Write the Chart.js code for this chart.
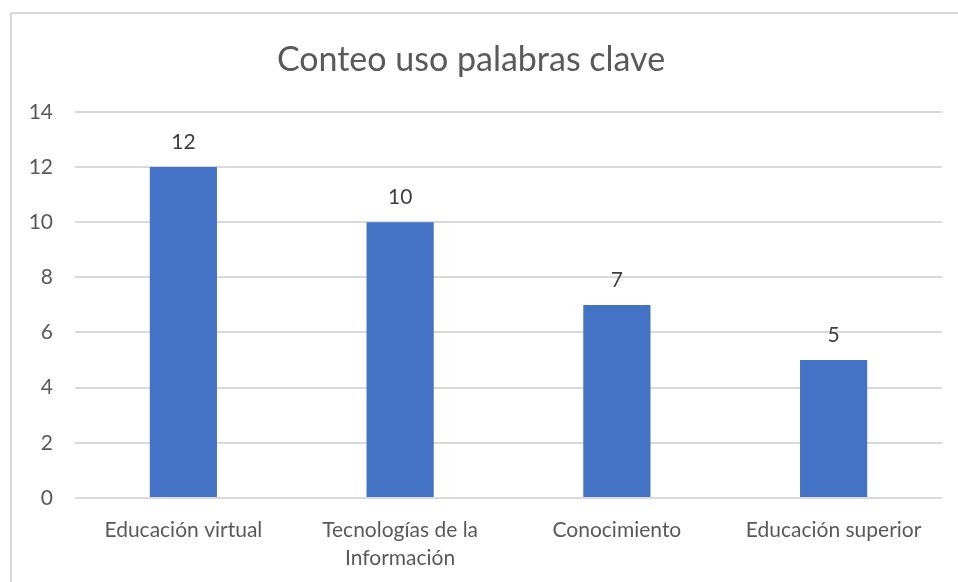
<!DOCTYPE html>
<html>
<head>
<meta charset="utf-8">
<script src="https://cdn.jsdelivr.net/npm/chart.js@4.4.0/dist/chart.umd.min.js"></script>
<style>
  html, body { margin: 0; padding: 0; background: #fff; }
  #wrap { position: absolute; left: 0; top: 0; width: 958px; height: 582px; }
  #frame { position: absolute; left: 10px; top: 12px; width: 960px; height: 600px; border: 2px solid #d9d9d9; box-sizing: border-box; }
  canvas { position: absolute; left: 0; top: 0; }
</style>
</head>
<body>
<div id="wrap">
  <div id="frame"></div>
  <canvas id="myChart" width="958" height="582"></canvas>
</div>
<script>
var categorias = ['Educación virtual', ['Tecnologías de la', 'Información'], 'Conocimiento', 'Educación superior'];
var valores = [12, 10, 7, 5];
var titulo = 'Conteo uso palabras clave';

var fuente = "Lato, 'Open Sans', sans-serif";

// etiquetas encima de cada barra
var etiquetas = {
  id: 'etiquetas',
  afterDatasetsDraw: function(chart) {
    var ctx = chart.ctx;
    var meta = chart.getDatasetMeta(0);
    ctx.save();
    ctx.fillStyle = '#404040';
    ctx.font = '21px ' + fuente;
    ctx.textAlign = 'center';
    ctx.textBaseline = 'middle';
    meta.data.forEach(function(bar, i) {
      ctx.fillText(valores[i], bar.x, bar.y - 25);
    });
    ctx.restore();
  }
};

var ctx = document.getElementById('myChart');
var myChart = new Chart(ctx, {
  type: 'bar',
  data: {
    labels: categorias,
    datasets: [{
      data: valores,
      backgroundColor: '#4472C4',
      categoryPercentage: 1,
      barPercentage: 0.31
    }]
  },
  options: {
    responsive: false,
    animation: false,
    layout: { padding: { left: 0, right: 16, top: 0, bottom: 0 } },
    plugins: {
      legend: { display: false },
      tooltip: { enabled: false },
      title: {
        display: true,
        text: titulo,
        color: '#595959',
        font: { family: fuente, size: 34, weight: 'normal' },
        padding: { top: 40, bottom: 31 }
      }
    },
    scales: {
      x: {
        grid: { display: false, drawTicks: false },
        border: { display: false },
        ticks: { color: '#595959', font: { family: fuente, size: 21, lineHeight: 1.35 }, padding: 18, maxRotation: 0, autoSkip: false },
        afterFit: function(s) { s.height = 84; }
      },
      y: {
        min: 0,
        max: 14,
        ticks: { stepSize: 2, color: '#595959', font: { family: fuente, size: 21 }, padding: 22 },
        grid: { color: '#d9d9d9', lineWidth: 2, drawTicks: false },
        border: { display: false },
        afterFit: function(s) { s.width = 75; }
      }
    }
  },
  plugins: [etiquetas]
});
</script>
</body>
</html>
